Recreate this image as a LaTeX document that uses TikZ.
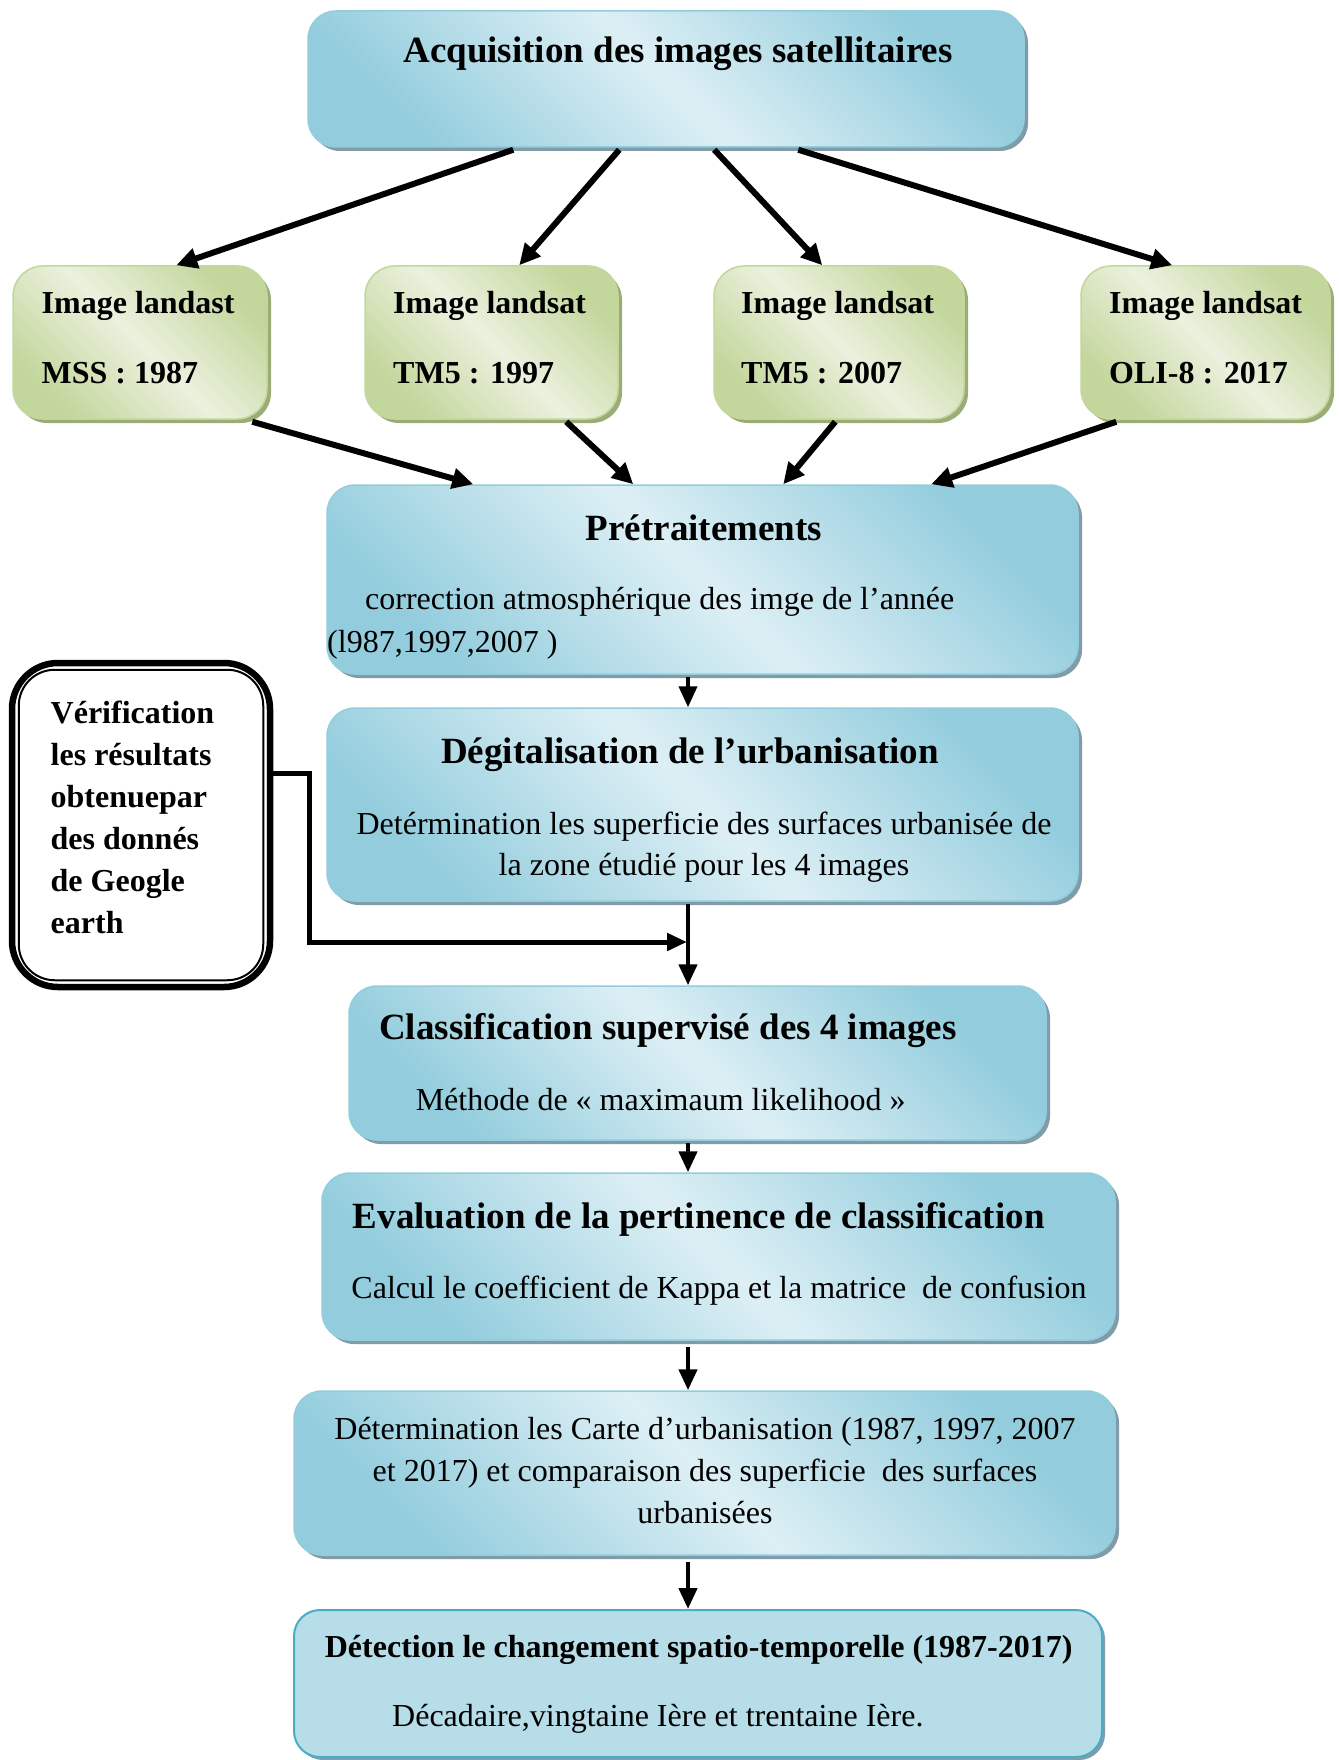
\documentclass[tikz,border=0pt]{standalone}
\usepackage{fontspec}
\setmainfont{Liberation Serif}
\usetikzlibrary{arrows.meta,shadows,calc}
\definecolor{bdark}{HTML}{93CDDD}
\definecolor{blight}{HTML}{DDEFF5}
\definecolor{bshadow}{HTML}{7F9CA8}
\definecolor{gdark}{HTML}{C3D69B}
\definecolor{glight}{HTML}{EBF1DE}
\definecolor{gshadow}{HTML}{9AAD76}
\definecolor{detfill}{HTML}{B7DDE8}
\definecolor{detline}{HTML}{4BACC6}
\tikzset{
  bluebox/.style={draw=bdark, line width=1.5pt, rounded corners=28pt,
    top color=bdark, bottom color=bdark, middle color=blight, shading angle=-45,
    drop shadow={shadow xshift=4pt, shadow yshift=-4pt, fill=bshadow, opacity=1},
    inner sep=0pt},
  greenbox/.style={draw=gdark, line width=1.5pt, rounded corners=30pt,
    top color=gdark, bottom color=gdark, middle color=glight, shading angle=-45,
    drop shadow={shadow xshift=4pt, shadow yshift=-4pt, fill=gshadow, opacity=1},
    inner sep=0pt, minimum height=153pt},
  detbox/.style={draw=detline, line width=2pt, rounded corners=26pt, fill=detfill,
    drop shadow={shadow xshift=3pt, shadow yshift=-3pt, fill=bshadow, opacity=1},
    inner sep=0pt},
  leftbox/.style={draw=black, line width=6.5pt, rounded corners=46pt, fill=white, inner sep=0pt},
  ttl/.style={font=\fontsize{37}{44}\selectfont\bfseries, inner sep=0pt, anchor=base},
  gtx/.style={font=\fontsize{32}{42}\selectfont\bfseries, inner sep=0pt, anchor=base west},
  btx/.style={font=\fontsize{32}{42}\selectfont\bfseries, inner sep=0pt, anchor=base},
  bod/.style={font=\fontsize{32}{42}\selectfont, inner sep=0pt, anchor=base},
  bodl/.style={font=\fontsize{32}{42}\selectfont, inner sep=0pt, anchor=base west},
  arr/.style={line width=6pt, -{Triangle[length=21pt,width=20pt]}},
  varr/.style={line width=4.5pt, -{Triangle[length=21pt,width=18pt]}},
}
\begin{document}
\begin{tikzpicture}[x=1pt,y=-1pt]
\useasboundingbox (0,0) rectangle (1338,1760);
\fill[white] (0,0) rectangle (1338,1760);

% boxes
\node[bluebox, minimum width=716pt, minimum height=136pt] (top) at (666,79) {};
\node[greenbox, minimum width=254pt] (g1) at (140,342.5) {};
\node[greenbox, minimum width=253pt] (g2) at (491.5,342.5) {};
\node[greenbox, minimum width=250pt] (g3) at (839,342.5) {};
\node[greenbox, minimum width=249pt] (g4) at (1205.5,342.5) {};
\node[bluebox, minimum width=751pt, minimum height=189pt] (pre) at (702.5,579.5) {};
\node[bluebox, minimum width=751pt, minimum height=193pt] (deg) at (702.5,804.5) {};
\node[leftbox, minimum width=258pt, minimum height=324pt] (ver) at (141,825) {};
\draw[line width=2pt, rounded corners=36pt] ([shift={(10,10)}]ver.north west) rectangle ([shift={(-10,-10)}]ver.south east);
\node[bluebox, minimum width=697pt, minimum height=154pt] (cla) at (697.5,1063) {};
\node[bluebox, minimum width=793pt, minimum height=167pt] (eva) at (718.5,1256.5) {};
\node[bluebox, minimum width=821pt, minimum height=164pt] (dtm) at (704.5,1473) {};
\node[detbox, minimum width=808pt, minimum height=147pt] (dtc) at (698,1683.5) {};

% texts
\node[ttl] (t0) at (678,63) {Acquisition des images satellitaires};
\node[gtx] (g1a) at (41.5,314) {Image landast};
\node[gtx] (g1b) at (41.5,383) {MSS : 1987};
\node[gtx] (g2a) at (393,314) {Image landsat};
\node[gtx] (g2b) at (393,383) {TM5 : 1997};
\node[gtx] (g3a) at (741,314) {Image landsat};
\node[gtx] (g3b) at (741,383) {TM5 : 2007};
\node[gtx] (g4a) at (1109,314) {Image landsat};
\node[gtx] (g4b) at (1109,383) {OLI-8 : 2017};

\node[ttl] (t1) at (704,540) {Prétraitements};
\node[bodl] (t1a) at (365,609) {correction atmosphérique des imge de l’année};
\node[bodl] (t1b) at (327,652) {(l987,1997,2007 )};

\node[ttl] (t2) at (690,763) {Dégitalisation de l’urbanisation};
\node[bod] (t2a) at (704,834) {Detérmination les superficie des surfaces urbanisée de};
\node[bod] (t2b) at (704,875) {la zone étudié pour les 4 images};

\node[gtx] (v1) at (50.5,723) {Vérification};
\node[gtx] (v2) at (50.5,765) {les résultats};
\node[gtx] (v3) at (50.5,807) {obtenuepar};
\node[gtx] (v4) at (50.5,849) {des donnés};
\node[gtx] (v5) at (50.5,891) {de Geogle};
\node[gtx] (v6) at (50.5,933) {earth};

\node[ttl] (t3) at (668,1039) {Classification supervisé des 4 images};
\node[bod] (t3a) at (660.6,1110) {Méthode de « maximaum likelihood »};

\node[ttl] (t4) at (698.7,1228) {Evaluation de la pertinence de classification};
\node[bod] (t4a) at (719,1298.5) {Calcul le coefficient de Kappa et la matrice\ \ de confusion};

\node[bod] (t5a) at (705,1439) {Détermination les Carte d’urbanisation (1987, 1997, 2007};
\node[bod] (t5b) at (705,1481) {et 2017) et comparaison des superficie\ \ des surfaces};
\node[bod] (t5c) at (705,1523) {urbanisées};

\node[btx] (t6) at (698.7,1657) {Détection le changement spatio-temporelle (1987-2017)};
\node[bod] (t6a) at (657.8,1726) {Décadaire,vingtaine Ière et trentaine Ière.};

% connectors
\draw[arr] ([shift={(206,2)}]top.south west) -- ([xshift=164pt]g1.north west);
\draw[arr] ([shift={(312,2)}]top.south west) -- ([xshift=155pt]g2.north west);
\draw[arr] ([shift={(407,2)}]top.south west) -- ([xshift=109pt]g3.north west);
\draw[arr] ([shift={(491,2)}]top.south west) -- ([xshift=92pt]g4.north west);

\draw[arr] ([shift={(240,2)}]g1.south west) -- ([xshift=147pt]pre.north west);
\draw[arr] ([shift={(202,2)}]g2.south west) -- ([xshift=307pt]pre.north west);
\draw[arr] ([shift={(122,2)}]g3.south west) -- ([xshift=457pt]pre.north west);
\draw[arr] ([shift={(36,2)}]g4.south west) -- ([xshift=605pt]pre.north west);

\coordinate (vx) at (688,0);
\coordinate (join) at (688,942);
\draw[varr, line width=4pt] ([yshift=-2pt]pre.south -| vx) -- (deg.north -| vx);
\draw[varr] ([yshift=-2pt]deg.south -| vx) -- (cla.north -| vx);
\draw[varr] ([yshift=-2pt]cla.south -| vx) -- (eva.north -| vx);
\draw[varr] ([yshift=-6pt]eva.south -| vx) -- (dtm.north -| vx);
\draw[varr] ([yshift=-6pt]dtm.south -| vx) -- (dtc.north -| vx);
\draw[line width=5pt, -{Triangle[length=20pt,width=17pt]}] ([yshift=52pt]ver.east) -- ++(36,0) |- ([xshift=-1pt]join);
\end{tikzpicture}
\end{document}
